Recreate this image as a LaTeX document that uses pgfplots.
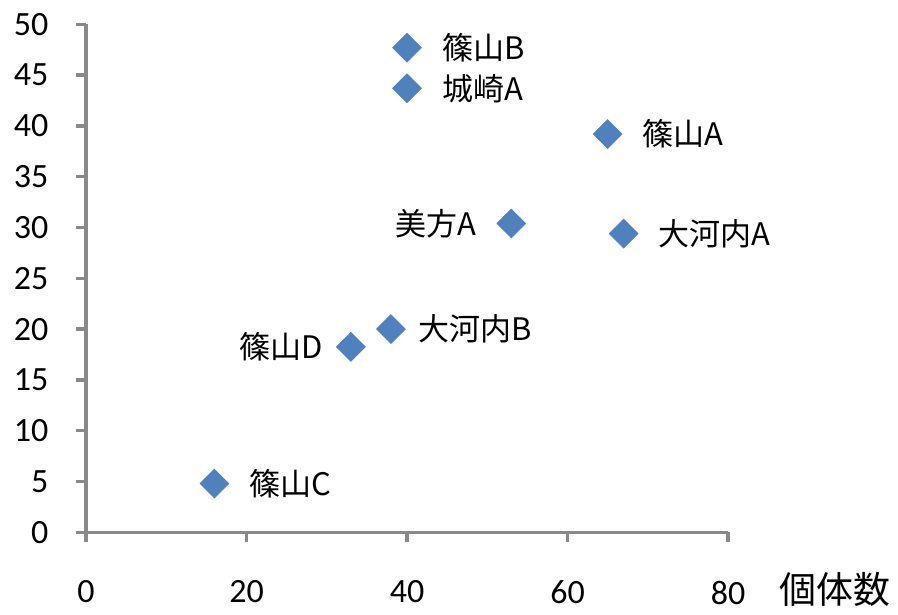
\documentclass[border=0pt]{standalone}
\usepackage{pgfplots}
\pgfplotsset{compat=1.18}
\usepackage{fontspec}
\setmainfont{Carlito}
\newfontfamily\jp{Noto Sans CJK JP}
\definecolor{mk}{HTML}{4F81BD}
\definecolor{axgray}{HTML}{898989}

\pgfplotsset{
  pts/.style 2 args={only marks, mark=square*, mark size=10.3pt,
    mark options={rotate=45, fill=mk, draw=mk},
    nodes near coords, point meta=explicit symbolic,
    nodes near coords style={anchor=#1, xshift=#2, inner sep=0pt, text=black,
      font=\jp\fontsize{31}{31}\selectfont}},
}

\begin{document}
\begin{tikzpicture}
\begin{axis}[
  scale only axis, width=642pt, height=508pt,
  xmin=0, xmax=80, ymin=0, ymax=50,
  xtick={0,20,...,80}, ytick={0,5,...,50},
  axis x line*=bottom, axis y line*=left,
  axis line style={axgray, line width=3.5pt},
  tick style={axgray, line width=3.5pt},
  tick align=outside, major tick length=10pt,
  /pgf/number format/assume math mode=true,
  ticklabel style={font=\fontsize{34}{34}\selectfont},
  yticklabel style={anchor=east, xshift=-24pt},
  xticklabel style={anchor=north, yshift=-35pt},
  xlabel={個体数},
  xlabel style={at={(axis description cs:1,0)}, anchor=west, xshift=48pt, yshift=-57pt, font=\jp\fontsize{37}{37}\selectfont},
  clip=false,
]
\addplot[pts={west}{35pt}] coordinates {
  (40,47.7) [篠山B]
  (40,43.7) [城崎A]
  (65,39.2) [篠山A]
  (67,29.4) [大河内A]
  (16,4.8)  [篠山C]
};
\addplot[pts={west}{27pt}] coordinates {
  (38,20.0) [大河内B]
};
\addplot[pts={east}{-35pt}] coordinates {
  (53,30.4) [美方A]
};
\addplot[pts={east}{-28pt}] coordinates {
  (33,18.25) [篠山D]
};
\path ([shift={(-86pt,-82.5pt)}]rel axis cs:0,0) rectangle ([shift={(170pt,24.3pt)}]rel axis cs:1,1);
\end{axis}
\end{tikzpicture}
\end{document}
